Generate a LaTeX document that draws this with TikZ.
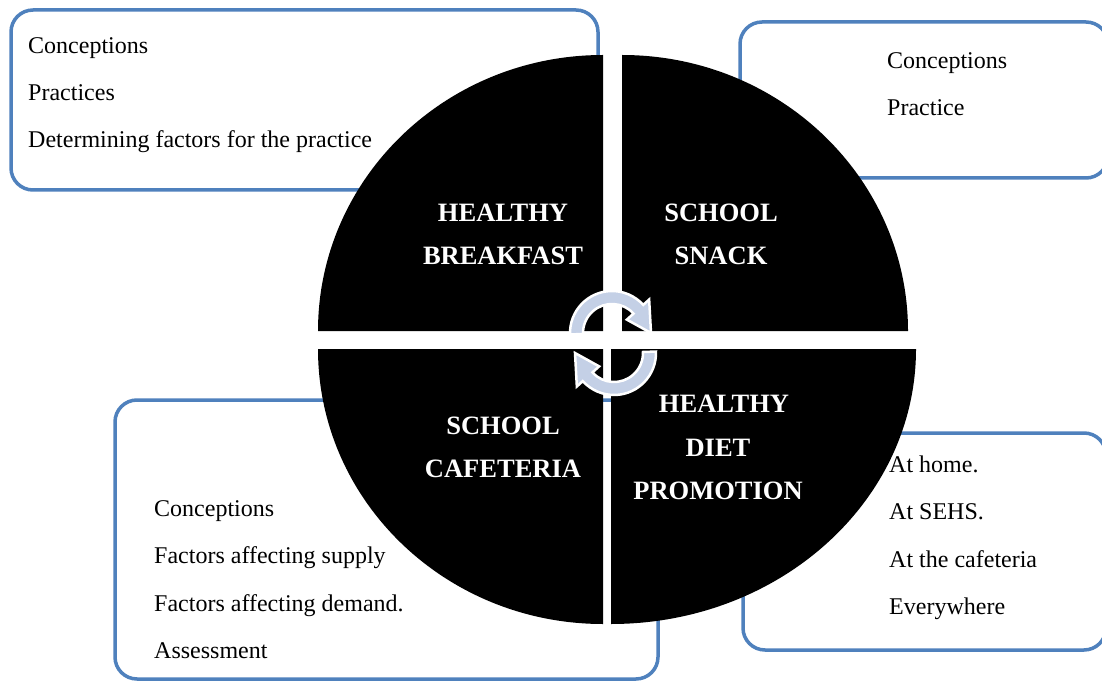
\documentclass[tikz,border=0pt]{standalone}
\usepackage{fontspec}
\setmainfont{Liberation Serif}
\definecolor{boxblue}{RGB}{79,129,189}
\definecolor{arrowfill}{RGB}{196,208,230}
\tikzset{
  infobox/.style={draw=boxblue, line width=3.5pt, rounded corners=22pt, fill=white},
  quad/.style={fill=black},
  itemtext/.style={anchor=base west, inner sep=0pt, font=\fontsize{24}{28}\selectfont},
  quadlabel/.style={anchor=base, inner sep=0pt, text=white, font=\fontsize{26.5}{30}\selectfont\bfseries},
  cyclearrow/.style={fill=arrowfill, draw=white, line width=2.5pt, line join=miter}
}
\begin{document}
\begin{tikzpicture}[x=1pt,y=1pt]
\useasboundingbox (0,0) rectangle (1102,681);
\fill[white] (0,0) rectangle (1102,681);
% boxes
\draw[infobox] (11,491) rectangle (598,671);
\draw[infobox] (740,503) rectangle (1108,659);
\draw[infobox] (115,2) rectangle (658,281);
\draw[infobox] (743,31) rectangle (1106,248);
% quadrants
\fill[quad] (603,350) -- (318,350) arc[start angle=180,end angle=90,x radius=285,y radius=276] -- cycle;
\fill[quad] (622,350) -- (622,626) arc[start angle=90,end angle=0,x radius=286,y radius=276] -- cycle;
\fill[quad] (603,332) -- (318,332) arc[start angle=180,end angle=270,x radius=285,y radius=275] -- cycle;
\fill[quad] (611,332) -- (611,57) arc[start angle=270,end angle=360,x radius=305,y radius=275] -- cycle;
% cycle arrows
\begin{scope}[shift={(612,348)}]
\draw[cyclearrow] (182:42) arc[start angle=182,end angle=42,radius=42] -- (42:50) -- (0:39) -- (42:20) -- (42:29) arc[start angle=42,end angle=182,radius=29] -- cycle;
\end{scope}
\begin{scope}[shift={(614,328)},rotate=180]
\draw[cyclearrow] (182:42) arc[start angle=182,end angle=42,radius=42] -- (42:50) -- (0:39) -- (42:20) -- (42:29) arc[start angle=42,end angle=182,radius=29] -- cycle;
\end{scope}
% quadrant labels
\node[quadlabel] (hb1) at (503,459) {HEALTHY};
\node[quadlabel] (hb2) at (503,416) {BREAKFAST};
\node[quadlabel] (ss1) at (721,459) {SCHOOL};
\node[quadlabel] (ss2) at (721,416) {SNACK};
\node[quadlabel] (sc1) at (503,247) {SCHOOL};
\node[quadlabel] (sc2) at (503,204) {CAFETERIA};
\node[quadlabel] (hd1) at (724,269) {HEALTHY};
\node[quadlabel] (hd2) at (718,225) {DIET};
\node[quadlabel] (hd3) at (718,182) {PROMOTION};
% box texts
\node[itemtext] (a1) at (28,627) {Conceptions};
\node[itemtext] (a2) at (28,580) {Practices};
\node[itemtext] (a3) at (28,533) {Determining factors for the practice};
\node[itemtext] (b1) at (887,612) {Conceptions};
\node[itemtext] (b2) at (887,565) {Practice};
\node[itemtext] (c1) at (154,165) {Conceptions};
\node[itemtext] (c2) at (154,118) {Factors affecting supply};
\node[itemtext] (c3) at (154,70) {Factors affecting demand.};
\node[itemtext] (c4) at (154,23) {Assessment};
\node[itemtext] (d1) at (889,209) {At home.};
\node[itemtext] (d2) at (889,162) {At SEHS.};
\node[itemtext] (d3) at (889,114) {At the cafeteria};
\node[itemtext] (d4) at (889,67) {Everywhere};
\end{tikzpicture}
\end{document}
